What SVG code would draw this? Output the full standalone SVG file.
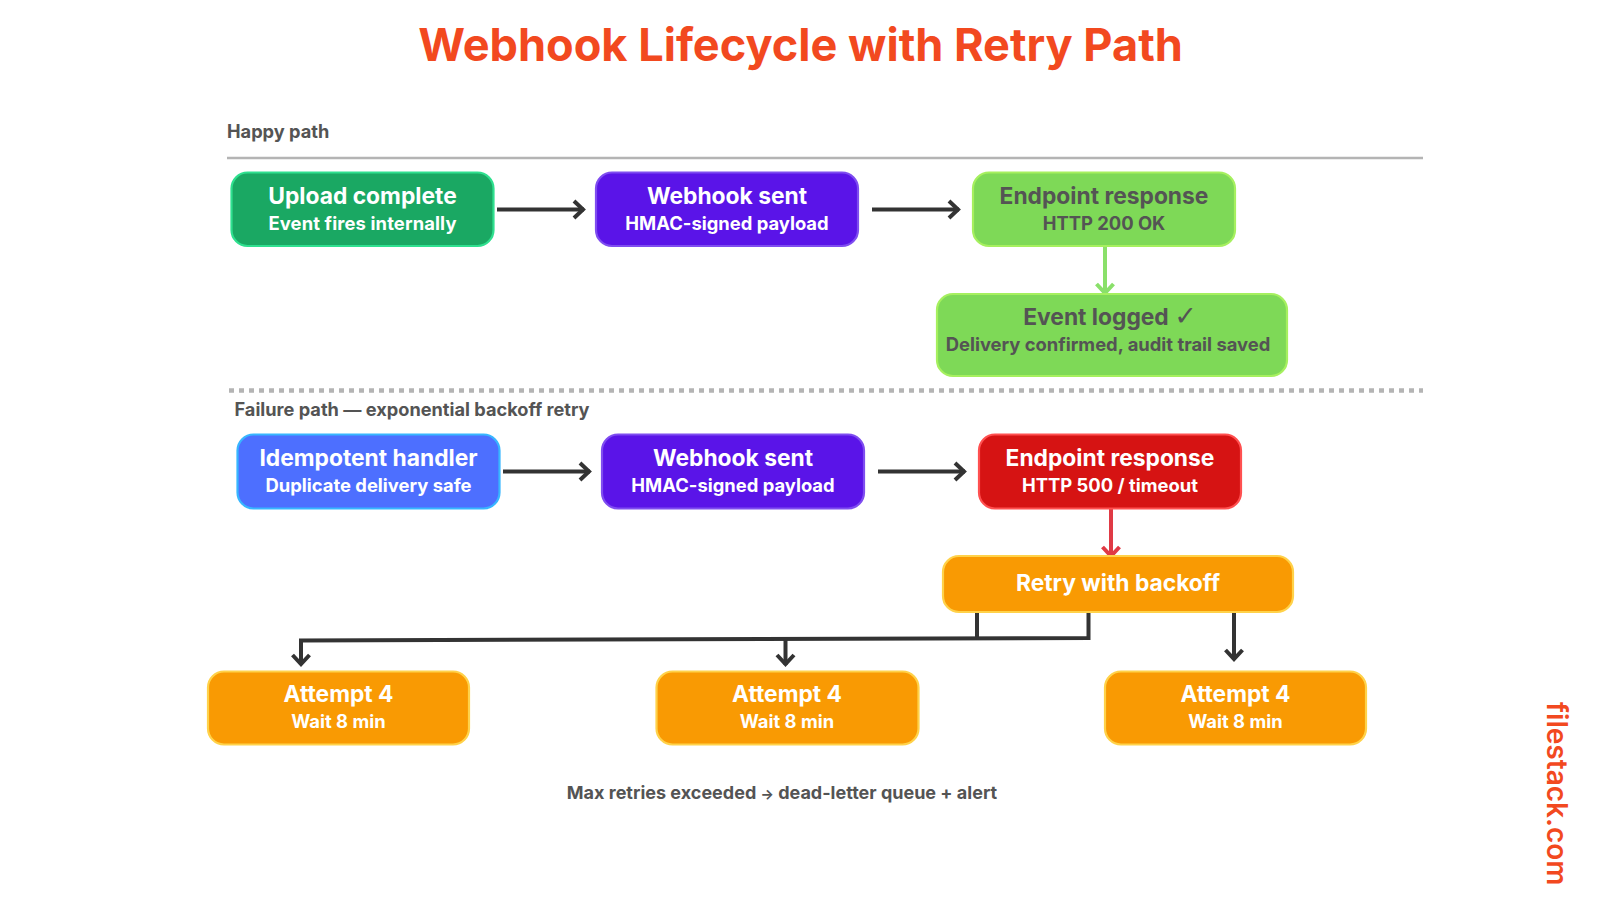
<svg xmlns="http://www.w3.org/2000/svg" width="1600" height="900" viewBox="0 0 1600 900">
<style>
text{font-family:Inter,"Noto Sans","Liberation Sans",sans-serif;text-anchor:middle}
.t{font-size:22.8px;font-weight:700}
.s{font-size:18.4px;font-weight:700}
.w{fill:#fff}
.d{fill:#545454}
.l{font-size:18.2px;font-weight:700;fill:#545454;text-anchor:start}
rect{stroke-width:2.2}
.c{fill:none;stroke-width:4}
.k{stroke:#333}
</style>
<defs>
<marker id="ak" markerUnits="userSpaceOnUse" markerWidth="20" markerHeight="24" refX="15" refY="12" orient="auto"><path d="M5 3.500L14 12L5 20.500" fill="none" stroke="#333" stroke-width="4"/></marker>
<marker id="ag" markerUnits="userSpaceOnUse" markerWidth="20" markerHeight="24" refX="15" refY="12" orient="auto"><path d="M5 3.500L14 12L5 20.500" fill="none" stroke="#8ae06a" stroke-width="4"/></marker>
<marker id="ar" markerUnits="userSpaceOnUse" markerWidth="20" markerHeight="24" refX="15" refY="12" orient="auto"><path d="M5 3.500L14 12L5 20.500" fill="none" stroke="#e03a45" stroke-width="4"/></marker>
</defs>
<text id="title" x="800.500" y="61" fill="#f2491f" style="font-size:45.1px;font-weight:700">Webhook Lifecycle with Retry Path</text>
<g id="section-lines">
<line x1="227" y1="158" x2="1423" y2="158" stroke="#b4b4b4" stroke-width="2.5"/>
<line x1="229" y1="390.500" x2="1423" y2="390.500" stroke="#b4b4b4" stroke-width="4.500" stroke-dasharray="5 5"/>
</g>
<text class="l" x="227" y="138">Happy path</text>
<text class="l" x="234.500" y="415.500">Failure path — exponential backoff retry</text>
<g id="connectors">
<path class="c k" marker-end="url(#ak)" d="M497 209.500H584"/>
<path class="c k" marker-end="url(#ak)" d="M872 209.500H959"/>
<path class="c" stroke="#8ae06a" marker-end="url(#ag)" d="M1105 247V294"/>
<path class="c k" marker-end="url(#ak)" d="M503 471.500H590"/>
<path class="c k" marker-end="url(#ak)" d="M878 471.500H965"/>
<path class="c" stroke="#e03a45" marker-end="url(#ar)" d="M1111 509V557"/>
<path class="c k" marker-end="url(#ak)" d="M1088.500 612V638L301 640.500V665"/>
<path class="c k" d="M977 612V638"/>
<path class="c k" marker-end="url(#ak)" d="M785.500 639V665"/>
<path class="c k" marker-end="url(#ak)" d="M1234 612V660"/>
</g>
<g id="n1"><rect x="231.500" y="172.500" width="262" height="73.500" rx="16" fill="#1aa863" stroke="#2fe08f"/><text class="t w" x="362.500" y="203.500">Upload complete</text><text class="s w" x="362.500" y="230" textLength="188">Event fires internally</text></g>
<g id="n2"><rect x="596" y="172.500" width="262" height="73.500" rx="16" fill="#5a14e8" stroke="#7f4df0"/><text class="t w" x="727" y="203.500">Webhook sent</text><text class="s w" x="727" y="230">HMAC-signed payload</text></g>
<g id="n3"><rect x="973" y="172.500" width="262" height="73.500" rx="16" fill="#7ed957" stroke="#a6f05f"/><text class="t d" x="1104" y="203.500">Endpoint response</text><text class="s d" x="1104" y="230">HTTP 200 OK</text></g>
<g id="n4"><rect x="937" y="294" width="350" height="82" rx="16" fill="#7ed957" stroke="#a6f05f"/><text class="t d" x="1110" y="324.500">Event logged <tspan style="font-family:'DejaVu Sans',sans-serif;font-weight:400;font-size:27px">✓</tspan></text><text class="s d" x="1108" y="351">Delivery confirmed, audit trail saved</text></g>
<g id="n5"><rect x="237.500" y="434.500" width="262" height="74" rx="16" fill="#4d6fff" stroke="#38b6ff"/><text class="t w" x="368.500" y="465.500">Idempotent handler</text><text class="s w" x="368.500" y="492">Duplicate delivery safe</text></g>
<g id="n6"><rect x="602" y="434.500" width="262" height="74" rx="16" fill="#5a14e8" stroke="#7f4df0"/><text class="t w" x="733" y="465.500">Webhook sent</text><text class="s w" x="733" y="492">HMAC-signed payload</text></g>
<g id="n7"><rect x="979" y="434.500" width="262" height="74" rx="16" fill="#d61313" stroke="#ff5050"/><text class="t w" x="1110" y="465.500">Endpoint response</text><text class="s w" x="1110" y="492">HTTP 500 / timeout</text></g>
<g id="n8"><rect x="943" y="556" width="350" height="56" rx="16" fill="#f99a03" stroke="#ffd24a"/><text class="t w" x="1118" y="591">Retry with backoff</text></g>
<g id="n9"><rect x="208" y="671.500" width="261" height="73" rx="16" fill="#f99a03" stroke="#ffd24a"/><text class="t w" x="338.500" y="702">Attempt 4</text><text class="s w" x="338.500" y="728">Wait 8 min</text></g>
<g id="n10"><rect x="656.500" y="671.500" width="262" height="73" rx="16" fill="#f99a03" stroke="#ffd24a"/><text class="t w" x="787" y="702">Attempt 4</text><text class="s w" x="787" y="728">Wait 8 min</text></g>
<g id="n11"><rect x="1105" y="671.500" width="261" height="73" rx="16" fill="#f99a03" stroke="#ffd24a"/><text class="t w" x="1235.500" y="702">Attempt 4</text><text class="s w" x="1235.500" y="728">Wait 8 min</text></g>
<text x="782" y="799" style="font-size:18px;font-weight:700" fill="#545454">Max retries exceeded <tspan style="font-size:14px">→</tspan> dead-letter queue + alert</text>
<text transform="translate(1547 702) rotate(90)" style="text-anchor:start;font-size:28px;font-weight:600" fill="#f2491f">filestack.com</text>
</svg>
